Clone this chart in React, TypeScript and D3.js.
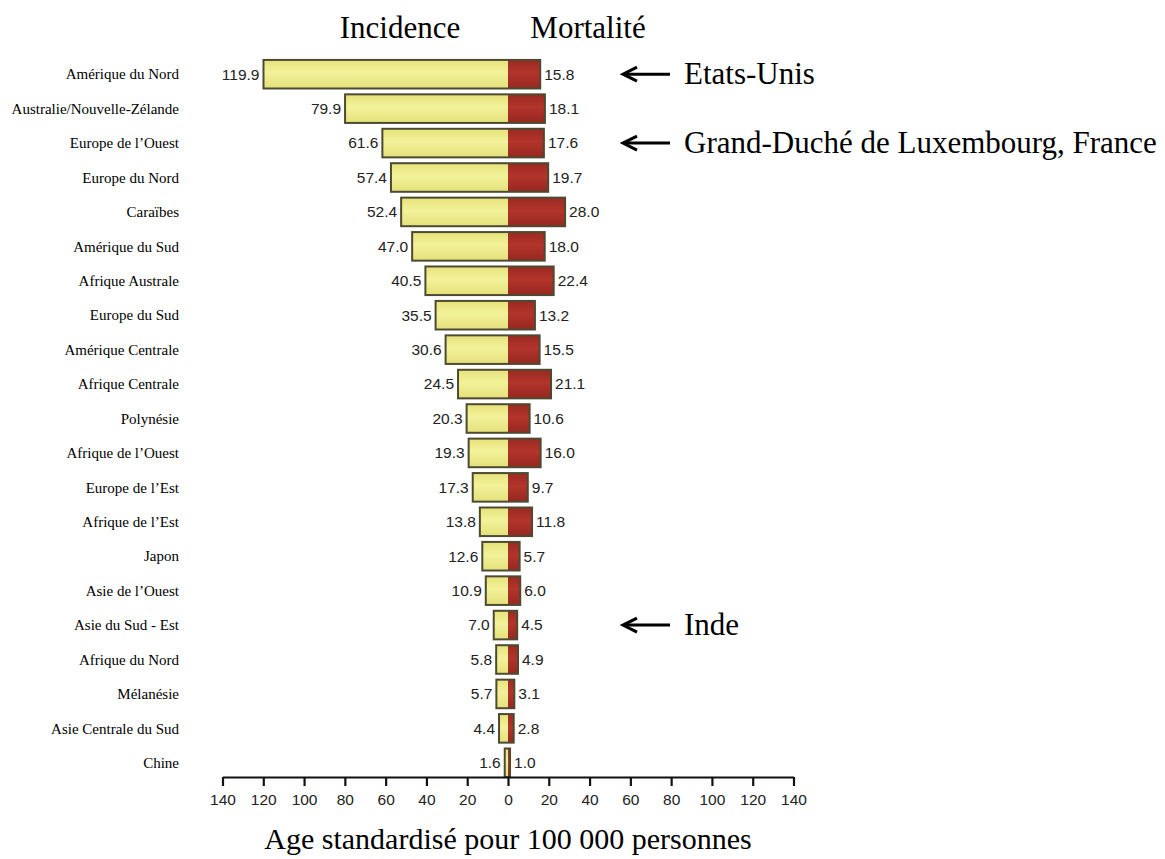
import React, { useEffect, useRef } from "react";
import * as d3 from "d3";

const categories = [
  "Amérique du Nord", "Australie/Nouvelle-Zélande", "Europe de l’Ouest", "Europe du Nord",
  "Caraïbes", "Amérique du Sud", "Afrique Australe", "Europe du Sud", "Amérique Centrale",
  "Afrique Centrale", "Polynésie", "Afrique de l’Ouest", "Europe de l’Est", "Afrique de l’Est",
  "Japon", "Asie de l’Ouest", "Asie du Sud - Est", "Afrique du Nord", "Mélanésie",
  "Asie Centrale du Sud", "Chine",
];
const incidence = [119.9, 79.9, 61.6, 57.4, 52.4, 47.0, 40.5, 35.5, 30.6, 24.5, 20.3, 19.3, 17.3, 13.8, 12.6, 10.9, 7.0, 5.8, 5.7, 4.4, 1.6];
const mortality = [15.8, 18.1, 17.6, 19.7, 28.0, 18.0, 22.4, 13.2, 15.5, 21.1, 10.6, 16.0, 9.7, 11.8, 5.7, 6.0, 4.5, 4.9, 3.1, 2.8, 1.0];
const tickValues = [-140, -120, -100, -80, -60, -40, -20, 0, 20, 40, 60, 80, 100, 120, 140];
const annotations = [
  { category: "Amérique du Nord", text: "Etats-Unis" },
  { category: "Europe de l’Ouest", text: "Grand-Duché de Luxembourg, France" },
  { category: "Asie du Sud - Est", text: "Inde" },
];

const W = 1165, H = 859;

export default function App() {
  const ref = useRef<SVGSVGElement>(null);
  useEffect(() => {
    const svg = d3.select(ref.current);
    svg.selectAll("*").remove();
    const x = d3.scaleLinear().domain([-140, 140]).range([222.5, 793.5]);
    const y = d3.scaleBand<string>().domain(categories).range([57, 780]).paddingInner(0.17).paddingOuter(0.085);
    const serif = "'Liberation Serif', 'Times New Roman', serif";
    const sans = "'Liberation Sans', Arial, sans-serif";

    const defs = svg.append("defs");
    const gy = defs.append("linearGradient").attr("id", "gy").attr("x1", 0).attr("x2", 0).attr("y1", 0).attr("y2", 1);
    gy.append("stop").attr("offset", "0%").attr("stop-color", "#e6e27a");
    gy.append("stop").attr("offset", "45%").attr("stop-color", "#f3f29a");
    gy.append("stop").attr("offset", "100%").attr("stop-color", "#e4e07a");
    const gr = defs.append("linearGradient").attr("id", "gr").attr("x1", 0).attr("x2", 0).attr("y1", 0).attr("y2", 1);
    gr.append("stop").attr("offset", "0%").attr("stop-color", "#9a2a22");
    gr.append("stop").attr("offset", "45%").attr("stop-color", "#b3342b");
    gr.append("stop").attr("offset", "100%").attr("stop-color", "#962820");

    const rows = categories.map((c, i) => ({ c, inc: incidence[i], mort: mortality[i] }));
    const g = svg.append("g");
    const bh = y.bandwidth();
    const row = g.selectAll("g.row").data(rows).join("g").attr("class", "row");

    row.append("rect")
      .attr("x", d => x(-d.inc)).attr("y", d => y(d.c)!)
      .attr("width", d => x(0) - x(-d.inc)).attr("height", bh)
      .attr("fill", "url(#gy)");
    row.append("rect")
      .attr("x", x(0)).attr("y", d => y(d.c)!)
      .attr("width", d => x(d.mort) - x(0)).attr("height", bh)
      .attr("fill", "url(#gr)");
    row.append("rect")
      .attr("x", d => x(-d.inc)).attr("y", d => y(d.c)!)
      .attr("width", d => x(d.mort) - x(-d.inc)).attr("height", bh)
      .attr("fill", "none").attr("stroke", "#4d4a32").attr("stroke-width", 2);

    row.append("text")
      .attr("x", d => x(-d.inc) - 4).attr("y", d => y(d.c)! + bh / 2)
      .attr("dy", "0.35em").attr("text-anchor", "end")
      .attr("font-family", sans).attr("font-size", 15.5).attr("fill", "#222")
      .text(d => d.inc.toFixed(1));
    row.append("text")
      .attr("x", d => x(d.mort) + 4).attr("y", d => y(d.c)! + bh / 2)
      .attr("dy", "0.35em").attr("text-anchor", "start")
      .attr("font-family", sans).attr("font-size", 15.5).attr("fill", "#222")
      .text(d => d.mort.toFixed(1));
    row.append("text")
      .attr("x", 179).attr("y", d => y(d.c)! + bh / 2)
      .attr("dy", "0.35em").attr("text-anchor", "end")
      .attr("font-family", serif).attr("font-size", 15).attr("fill", "#000")
      .text(d => d.c);

    const axis = d3.axisBottom(x).tickValues(tickValues).tickSize(9).tickSizeOuter(0)
      .tickFormat(v => String(Math.abs(+v)));
    const ag = svg.append("g").attr("transform", "translate(0,777)").call(axis);
    ag.select(".domain").attr("stroke", "#111").attr("stroke-width", 2.2);
    ag.selectAll(".tick line").attr("stroke", "#111").attr("stroke-width", 2.2);
    ag.selectAll(".tick text").attr("font-family", sans).attr("font-size", 15.5).attr("fill", "#222").attr("dy", "1.05em");

    svg.append("text").attr("x", 400).attr("y", 38).attr("text-anchor", "middle")
      .attr("font-family", serif).attr("font-size", 31).text("Incidence");
    svg.append("text").attr("x", 588).attr("y", 38).attr("text-anchor", "middle")
      .attr("font-family", serif).attr("font-size", 31).text("Mortalité");
    svg.append("text").attr("x", 508).attr("y", 849).attr("text-anchor", "middle")
      .attr("font-family", serif).attr("font-size", 30).text("Age standardisé pour 100 000 personnes");

    const an = svg.append("g").selectAll("g").data(annotations).join("g");
    an.append("line").attr("x1", 624).attr("x2", 670)
      .attr("y1", d => y(d.category)! + bh / 2).attr("y2", d => y(d.category)! + bh / 2)
      .attr("stroke", "#000").attr("stroke-width", 3);
    an.append("path")
      .attr("d", d => {
        const cy = y(d.category)! + bh / 2;
        return `M637,${cy - 7} L623,${cy} L637,${cy + 7}`;
      })
      .attr("fill", "none").attr("stroke", "#000").attr("stroke-width", 3).attr("stroke-linejoin", "miter");
    an.append("text").attr("x", 684).attr("y", d => y(d.category)! + bh / 2)
      .attr("dy", "0.33em").attr("font-family", serif).attr("font-size", 31)
      .text(d => d.text);
  }, []);
  return (
    <svg ref={ref} width={W} height={H} style={{ position: "absolute", left: 0, top: 0, background: "#fff" }} />
  );
}
